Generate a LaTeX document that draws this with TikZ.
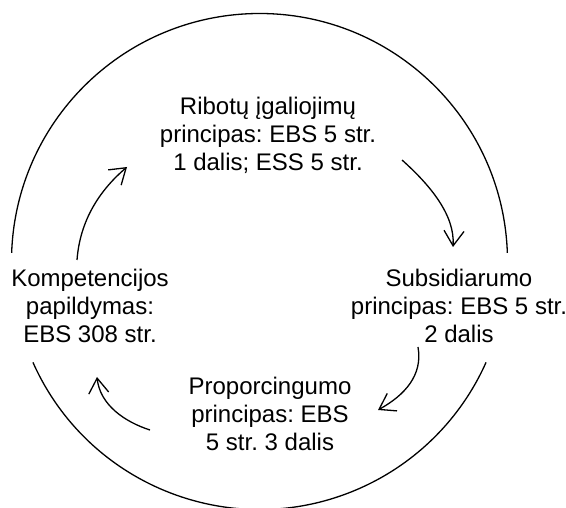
\documentclass[tikz,border=0pt]{standalone}
\usepackage{fontspec}
\setmainfont{Liberation Sans}
\usetikzlibrary{arrows.meta}

\tikzset{
	lbl/.style={align=center, inner sep=0pt, font=\fontsize{24}{28}\selectfont\frenchspacing},
	ring/.style={line width=1.3pt},
	cyc/.style={line width=1.3pt, -{Straight Barb[length=15pt,width=20pt,line width=1.3pt]}}
}

\begin{document}
\begin{tikzpicture}[x=1pt,y=1pt]
	\useasboundingbox (0,0) rectangle (566,507);
	
	%big circle - two arcs
	\coordinate (ctr) at (259.5,245.5);
	\draw[ring] (ctr) ++(2:248) arc[start angle=2, end angle=178, radius=248];		%upper
	\draw[ring] (ctr) ++(204:248) arc[start angle=204, end angle=336, radius=248];	%lower
	
	%captions
	\node[lbl] (rib) at (268,372) {Ribotų įgaliojimų\\principas: EBS 5 str.\\1 dalis; ESS 5 str.};
	\node[lbl] (sub) at (459,201) {Subsidiarumo\\principas: EBS 5 str.\\2 dalis};
	\node[lbl] (pro) at (270,93) {Proporcingumo\\principas: EBS\\5 str. 3 dalis};
	\node[lbl] (kom) at (90,201) {Kompetencijos\\papildymas:\\EBS 308 str.};
	
	%arrow ends
	\coordinate (kr0) at (77,247);	\coordinate (kr1) at (127,340);	%kom -> rib
	\coordinate (rs0) at (402,347);	\coordinate (rs1) at (453,260);	%rib -> sub
	\coordinate (sp0) at (418,160);	\coordinate (sp1) at (378,97);	%sub -> pro
	\coordinate (pk0) at (150,77);	\coordinate (pk1) at (97,130);	%pro -> kom
	
	%cycle arrows
	\draw[cyc] (kr0) .. controls (80,287) and (100,317) .. (kr1);
	\draw[cyc] (rs0) .. controls (430,322) and (455,292) .. (rs1);
	\draw[cyc] (sp0) .. controls (423,132) and (405,112) .. (sp1);
	\draw[cyc] (pk0) .. controls (125,85) and (100,102) .. (pk1);
\end{tikzpicture}
\end{document}
